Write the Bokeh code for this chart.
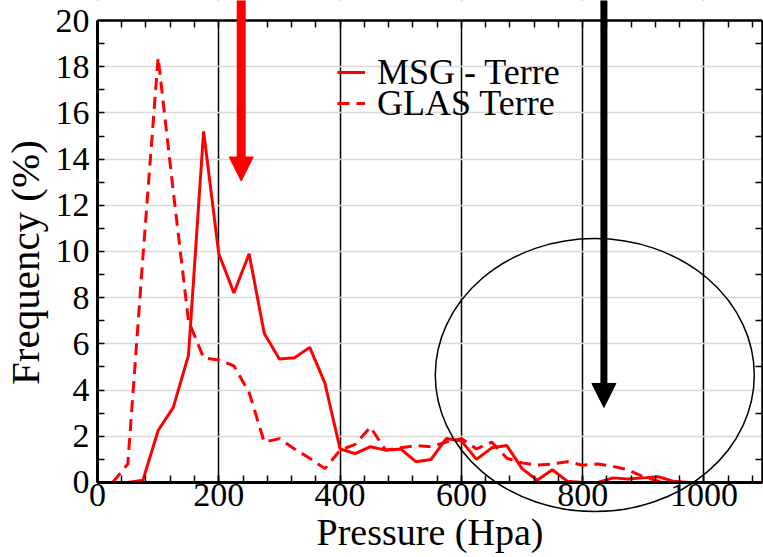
import numpy as np
from bokeh.plotting import figure
from bokeh.models import (Range1d, SingleIntervalTicker, FixedTicker, LinearAxis, Legend,
                          LegendItem, Arrow, NormalHead, BoxAnnotation, Label)
from bokeh.embed import file_html
from bokeh.resources import INLINE

# ---- data ----
pressure_msg = [0, 25, 50, 75, 100, 125, 150, 175, 200, 225, 250, 275, 300, 325, 350, 375,
                400, 425, 450, 475, 500, 525, 550, 575, 600, 625, 650, 675, 700, 725, 750,
                775, 800, 825, 850, 875, 900, 925, 950, 975, 1000, 1025, 1050, 1075, 1100]
freq_msg = [0, 0, 0, 0.1, 2.25, 3.25, 5.5, 15.2, 9.9, 8.2, 9.9, 6.45, 5.35, 5.4, 5.85, 4.3,
            1.45, 1.25, 1.55, 1.4, 1.45, 0.9, 1.0, 1.9, 1.8, 1.0, 1.5, 1.6, 0.6, 0.1, 0.55,
            0.05, 0, 0, 0.2, 0.15, 0.2, 0.25, 0.05, 0, 0, 0, 0, 0, 0]

pressure_glas = [25, 50, 75, 100, 125, 150, 175, 200, 225, 250, 275, 300, 325, 350, 375,
                 400, 425, 450, 475, 500, 525, 550, 575, 600, 625, 650, 675, 700, 725, 750,
                 775, 800, 825, 850, 875, 900, 925, 950, 975, 1000, 1025, 1050, 1075, 1100]
freq_glas = [0, 0.8, 9.8, 18.4, 12.6, 7.0, 5.4, 5.3, 5.05, 3.9, 1.75, 1.9, 1.45, 1.05, 0.6,
             1.4, 1.65, 2.4, 1.4, 1.5, 1.6, 1.55, 1.75, 1.9, 1.45, 1.75, 1.05, 0.85, 0.75, 0.8,
             0.9, 0.75, 0.8, 0.7, 0.55, 0.25, 0.05, 0, 0, 0, 0, 0, 0, 0]

series_labels = ["MSG - Terre", "GLAS Terre"]
x_title = "Pressure (Hpa)"
y_title = "Frequency (%)"

# tick marks (no labels) on the top and right sides of the box
top_ticks = [0, 40, 80, 120, 160, 200, 240, 280, 320, 360, 400, 440, 480, 520, 560, 600,
             640, 680, 720, 760, 800, 840, 880, 920, 960, 1000, 1040, 1080]
right_ticks = [1, 3, 5, 7, 9, 11, 13, 15, 17, 19]

# limits of the drawn axes box
x_min, x_max = 0, 1096.5
y_min, y_max = 0, 20

# annotations (arrows and ellipse) in data units
red_arrow = dict(x=237, y_start=21.5, y_end=13.05)
black_arrow = dict(x=835, y_start=21.5, y_end=3.25)
ellipse = dict(cx=820, cy=4.65, w=526, h=11.82)

FONT = "Liberation Serif"
RED = "#ff0000"

# The frame covers the whole canvas, so that the arrows, the ellipse and all texts may run
# past the axes box; the box itself is drawn by four axes placed at fixed data positions.
p = figure(width=763, height=557, output_backend="svg", toolbar_location=None,
           x_range=Range1d(-159.9, x_max), y_range=Range1d(-3.247, 20.866),
           min_border_left=0, min_border_right=1, min_border_top=0, min_border_bottom=0)
p.background_fill_color = "white"
p.border_fill_color = "white"
p.outline_line_color = None

xt = SingleIntervalTicker(interval=200, num_minor_ticks=5)
yt = SingleIntervalTicker(interval=2, num_minor_ticks=2)

xa = p.below[0]
ya = p.left[0]
xa.ticker = xt
ya.ticker = yt
xa.fixed_location = y_min
ya.fixed_location = x_min
xa.bounds = (x_min, x_max)
ya.bounds = (y_min, y_max)
for ax in (xa, ya):
    ax.axis_line_width = 3
    ax.axis_line_color = "black"
    ax.major_tick_out = 0
    ax.minor_tick_out = 0
    ax.minor_tick_in = 7
    ax.major_tick_line_color = "black"
    ax.minor_tick_line_color = "black"
    ax.major_tick_line_width = 1.5
    ax.minor_tick_line_width = 1.5
    ax.major_label_text_font = FONT
    ax.major_label_text_font_size = "34px"
    ax.major_label_text_color = "black"
xa.major_tick_in = 7
ya.major_tick_in = 0
xa.major_label_standoff = 2
ya.major_label_standoff = 8
xa.axis_label = x_title
xa.axis_label_text_font = FONT
xa.axis_label_text_font_style = "normal"
xa.axis_label_text_color = "black"
xa.axis_label_text_font_size = "38px"
xa.axis_label_standoff = 1

top = LinearAxis(ticker=FixedTicker(ticks=[], minor_ticks=top_ticks),
                 fixed_location=y_max, bounds=(x_min, x_max))
right = LinearAxis(ticker=FixedTicker(ticks=[], minor_ticks=right_ticks),
                   bounds=(y_min, y_max))
for ax in (top, right):
    ax.axis_line_color = "black"
    ax.axis_line_width = 2.5
    ax.major_tick_out = 0
    ax.major_tick_in = 0
    ax.minor_tick_out = 0
    ax.minor_tick_in = 7
    ax.minor_tick_line_color = "black"
    ax.minor_tick_line_width = 1.5
    ax.major_label_standoff = 0
p.add_layout(top, "above")
p.add_layout(right, "right")

p.xgrid.ticker = xt
p.ygrid.ticker = yt
p.xgrid.grid_line_color = "black"
p.xgrid.grid_line_width = 1.5
p.ygrid.grid_line_color = "#d9d9d9"
p.ygrid.grid_line_width = 1.5

# white masks keep the grid inside the axes box (drawn after the grid, under the data)
for box in (dict(top=y_min), dict(bottom=y_max), dict(right=x_min)):
    p.add_layout(BoxAnnotation(fill_color="white", fill_alpha=1, line_color=None,
                               level="underlay", **box))

r_msg = p.line(pressure_msg, freq_msg, line_color=RED, line_width=3)
r_glas = p.line(pressure_glas, freq_glas, line_color=RED, line_width=3, line_dash="12 7")

for item_label, rend, loc in ((series_labels[0], r_msg, (337, 464)),
                              (series_labels[1], r_glas, (337, 433))):
    leg = Legend(items=[LegendItem(label=item_label, renderers=[rend])], location=loc,
                 background_fill_alpha=0, border_line_color=None, padding=0, margin=0,
                 spacing=0, glyph_width=28, glyph_height=20, label_height=20,
                 label_standoff=12, label_text_font=FONT, label_text_font_size="36px",
                 label_text_color="black")
    p.add_layout(leg, "center")

p.add_layout(Label(x=-119.5, y=9.52, text=y_title, angle=np.pi / 2, text_align="center",
                   text_baseline="middle", text_font=FONT, text_font_size="41px",
                   text_color="black"))

p.ellipse(x=[ellipse["cx"]], y=[ellipse["cy"]], width=ellipse["w"], height=ellipse["h"],
          fill_color=None, line_color="black", line_width=1.5)

p.add_layout(Arrow(end=NormalHead(size=24, fill_color=RED, line_color=RED),
                   x_start=red_arrow["x"], y_start=red_arrow["y_start"],
                   x_end=red_arrow["x"], y_end=red_arrow["y_end"],
                   line_color=RED, line_width=9))
p.add_layout(Arrow(end=NormalHead(size=24, fill_color="black", line_color="black"),
                   x_start=black_arrow["x"], y_start=black_arrow["y_start"],
                   x_end=black_arrow["x"], y_end=black_arrow["y_end"],
                   line_color="black", line_width=7))

open("out.html", "w").write(file_html(p, INLINE))
